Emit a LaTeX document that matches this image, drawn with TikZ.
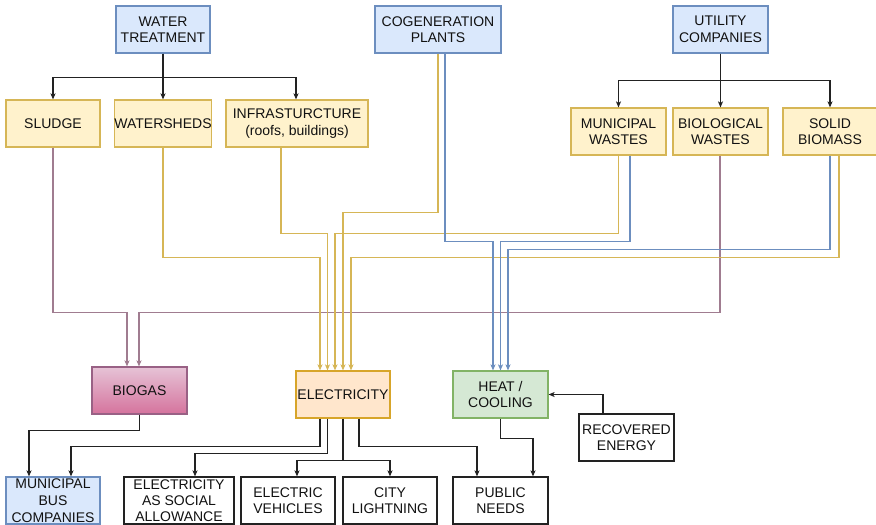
\documentclass[tikz,border=0pt]{standalone}
\usepackage{fontspec}
\setmainfont{Liberation Sans}
\usetikzlibrary{arrows.meta}
\definecolor{bfill}{HTML}{DAE8FC}
\definecolor{bdraw}{HTML}{6C8EBF}
\definecolor{yfill}{HTML}{FFF2CC}
\definecolor{ydraw}{HTML}{D6B656}
\definecolor{ofill}{HTML}{FFE6CC}
\definecolor{odraw}{HTML}{D7A52A}
\definecolor{gfill}{HTML}{D5E8D4}
\definecolor{gdraw}{HTML}{82B366}
\definecolor{ptop}{HTML}{E6C3D6}
\definecolor{pbot}{HTML}{D5739D}
\definecolor{pdraw}{HTML}{996185}
\definecolor{mline}{HTML}{A07C90}
\definecolor{txt}{HTML}{111111}
\definecolor{kline}{HTML}{222222}
\tikzset{
  box/.style={draw, rectangle, inner sep=0pt, align=center, text=txt,
    font=\fontsize{14}{16.5}\selectfont, line width=1.2pt, minimum height=47},
  bluebox/.style={box, fill=bfill, draw=bdraw},
  yelbox/.style={box, fill=yfill, draw=ydraw},
  whitebox/.style={box, fill=white, draw=kline},
  tip/.style={-{Stealth[length=6pt,width=5pt,inset=1.5pt]}},
  kc/.style={draw=kline, line width=1.2pt},
  yc/.style={draw=ydraw, line width=1.2pt, tip},
  bc/.style={draw=bdraw, line width=1.2pt, tip},
  mc/.style={draw=mline, line width=1.2pt, tip},
}
\begin{document}
\begin{tikzpicture}[x=1pt,y=-1pt]
\useasboundingbox[fill=white] (0,0) rectangle (876,525);
% top row
\node[bluebox, minimum width=94] (wt) at (163,29.5) {WATER\\TREATMENT};
\node[bluebox, minimum width=126] (cog) at (438,29.5) {COGENERATION\\PLANTS};
\node[bluebox, minimum width=95] (uc) at (720.5,29.5) {UTILITY\\COMPANIES};
% second row
\node[yelbox, minimum width=94] (sludge) at (53,123.5) {SLUDGE};
\node[yelbox, minimum width=94] (waters) at (163,123.5) {WATERSHEDS};
\node[yelbox, minimum width=142] (infra) at (297,123.5) {INFRASTURCTURE\\(roofs, buildings)};
\node[yelbox, minimum width=95] (mw) at (618.5,131.5) {MUNICIPAL\\WASTES};
\node[yelbox, minimum width=95] (bw) at (720.5,131.5) {BIOLOGICAL\\WASTES};
\node[yelbox, minimum width=94] (sb) at (830,131.5) {SOLID\\BIOMASS};
% middle row
\node[box, minimum width=95, draw=pdraw, top color=ptop, bottom color=pbot] (biogas) at (139.5,390.5) {BIOGAS};
\node[box, minimum width=94, fill=ofill, draw=odraw] (elec) at (343,394.5) {ELECTRICITY};
\node[box, minimum width=95, fill=gfill, draw=gdraw] (heat) at (500.5,394.5) {HEAT /\\COOLING};
\node[whitebox, minimum width=95] (rec) at (626.5,437.5) {RECOVERED\\ENERGY};
% bottom row
\node[bluebox, minimum width=94, font=\fontsize{14}{17}\selectfont] (mbc) at (53,500.5) {MUNICIPAL\\BUS\\COMPANIES};
\node[whitebox, minimum width=110, font=\fontsize{14}{16}\selectfont] (esa) at (179,500.5) {ELECTRICITY\\AS SOCIAL\\ALLOWANCE};
\node[whitebox, minimum width=94] (ev) at (288,500.5) {ELECTRIC\\VEHICLES};
\node[whitebox, minimum width=94] (cl) at (390,500.5) {CITY\\LIGHTNING};
\node[whitebox, minimum width=95] (pn) at (500.5,500.5) {PUBLIC\\NEEDS};
% water treatment branching
\draw[kc] (wt.south) -- ++(0,24) coordinate (wtj);
\draw[kc,tip] (wtj) -| (sludge.north);
\draw[kc,tip] (wtj) -| ([xshift=-1]infra.north);
\draw[kc,tip] (wt.south) -- (waters.north);
% utility branching
\draw[kc] (uc.south) -- ++(0,27) coordinate (ucj);
\draw[kc,tip] (ucj) -| (mw.north);
\draw[kc,tip] (ucj) -| (sb.north);
\draw[kc,tip] (uc.south) -- (bw.north);
% mauve to biogas
\draw[mc] (sludge.south) -- ++(0,165) -| ([xshift=-12.5]biogas.north);
\draw[mc] ([xshift=-0.5]bw.south) -- ++(0,157) -| ([xshift=-0.5]biogas.north);
% yellow to electricity
\draw[yc] (waters.south) -- ++(0,110) -| ([xshift=-23]elec.north);
\draw[yc] ([xshift=-16]infra.south) -- ++(0,86) -| ([xshift=-15.5]elec.north);
\draw[yc] (mw.south) -- ++(0,78) -| ([xshift=-8]elec.north);
\draw[yc] (cog.south) -- ++(0,159) -| (elec.north);
\draw[yc] ([xshift=9]sb.south) -- ++(0,102) -| ([xshift=8]elec.north);
% blue to heat
\draw[bc] ([xshift=7]cog.south) -- ++(0,188) -| ([xshift=-7.5]heat.north);
\draw[bc] ([xshift=11.5]mw.south) -- ++(0,86) -| (heat.north);
\draw[bc] (sb.south) -- ++(0,94) -| ([xshift=7.5]heat.north);
% outputs
\draw[kc,tip] (biogas.south) -- ++(0,16) -| ([xshift=-24]mbc.north);
\draw[kc,tip] ([xshift=-23]elec.south) -- ++(0,28) -| ([xshift=18]mbc.north);
\draw[kc,tip] ([xshift=-15.5]elec.south) -- ++(0,35) -| ([xshift=16]esa.north);
\draw[kc] (elec.south) -- ++(0,42) coordinate (ej);
\draw[kc,tip] (ej) -| ([xshift=9]ev.north);
\draw[kc,tip] (ej) -| (cl.north);
\draw[kc,tip] ([xshift=16]elec.south) -- ++(0,28) -| ([xshift=-23.5]pn.north);
\draw[kc,tip] (heat.south) -- ++(0,20) -| ([xshift=32.5]pn.north);
\draw[kc,tip] ([xshift=-23.5]rec.north) |- (heat.east);
\end{tikzpicture}
\end{document}
